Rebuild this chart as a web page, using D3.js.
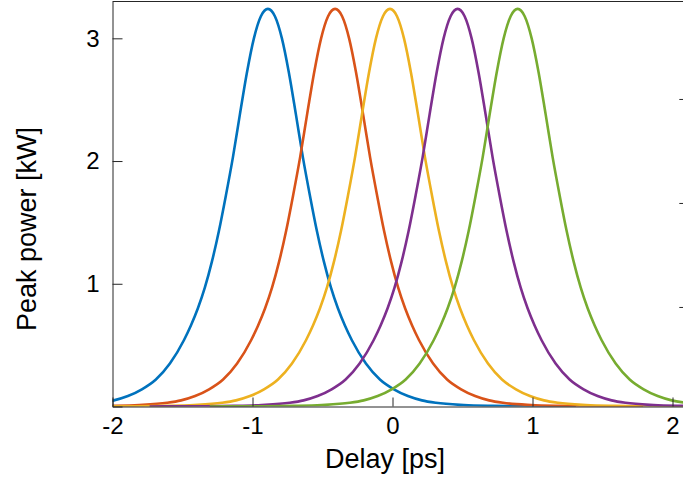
<!DOCTYPE html>
<html>
<head>
<meta charset="utf-8">
<script src="https://cdn.jsdelivr.net/npm/d3@7"></script>
<style>
  body { margin: 0; background: #fff; }
  svg { display: block; font-family: "Liberation Sans", Arial, sans-serif; }
</style>
</head>
<body>
<svg width="683" height="482"></svg>
<script>
// pulse shape: delay from peak [ps] vs peak power [kW]
var pulseOffset = [0, 0.05, 0.1, 0.15, 0.2, 0.25, 0.3, 0.35, 0.4, 0.45, 0.5, 0.55, 0.6, 0.7, 0.8, 0.9, 1.0, 1.1, 1.2, 1.4, 1.6, 1.8, 2.0, 2.2];
var pulsePower  = [3.24, 3.18, 3.00, 2.72, 2.38, 2.03, 1.72, 1.43, 1.18, 0.97, 0.80, 0.66, 0.54, 0.35, 0.22, 0.14, 0.085, 0.05, 0.03, 0.012, 0.005, 0.002, 0.001, 0.0005];

// peak delay of each pulse [ps]
var peakDelay = [-0.89, -0.41, -0.018, 0.465, 0.894];
var colors = ["#0072BD", "#D95319", "#EDB120", "#7E2F8E", "#77AC30"];

var xTicks = [-2, -1, 0, 1, 2];
var yTicks = [0, 1, 2, 3];
var rightTicks = [1, 2, 3];

var svg = d3.select("svg");

var plotL = 112.5, plotR = 689.3, plotT = 1.5, plotB = 406.5;

var x = d3.scaleLinear().domain([-2, 2.12]).range([plotL, plotR]);
var y = d3.scaleLinear().domain([0, 3.3]).range([plotB, plotT]);
var yRight = d3.scaleLinear().domain([0.043, 3.937]).range([plotB, plotT]);

svg.append("defs").append("clipPath").attr("id", "plot")
  .append("rect")
  .attr("x", plotL).attr("y", plotT)
  .attr("width", plotR - plotL).attr("height", plotB - plotT);

// full symmetric profile
var profile = [];
for (var i = pulseOffset.length - 1; i > 0; i--) profile.push([-pulseOffset[i], pulsePower[i]]);
for (var j = 0; j < pulseOffset.length; j++) profile.push([pulseOffset[j], pulsePower[j]]);

var line = d3.line()
  .x(function(d) { return x(d[0]); })
  .y(function(d) { return y(d[1]); })
  .curve(d3.curveMonotoneX);

svg.append("g")
  .attr("clip-path", "url(#plot)")
  .selectAll("path")
  .data(peakDelay)
  .enter().append("path")
  .attr("fill", "none")
  .attr("stroke", function(d, i) { return colors[i]; })
  .attr("stroke-width", 2.6)
  .attr("d", function(c) {
    return line(profile.map(function(p) { return [c + p[0], p[1]]; }));
  });

// axes
svg.append("g")
  .attr("transform", "translate(0," + plotB + ")")
  .call(d3.axisBottom(x).tickValues(xTicks).tickSizeInner(-9).tickSizeOuter(0).tickPadding(10)
    .tickFormat(function(d) { return String(d); }));

svg.append("g")
  .attr("transform", "translate(" + plotL + ",0)")
  .call(d3.axisLeft(y).tickValues(yTicks).tickSizeInner(-10).tickSizeOuter(0).tickPadding(13)
    .tickFormat(function(d) { return d === 0 ? "" : String(d); }));

svg.append("g")
  .attr("transform", "translate(" + plotR + ",0)")
  .call(d3.axisRight(yRight).tickValues(rightTicks).tickSizeInner(-10).tickSizeOuter(0).tickFormat(""));

svg.selectAll(".domain").attr("stroke", "#262626");
svg.selectAll(".tick line").attr("stroke", "#262626");
svg.selectAll(".tick text").attr("fill", "#000").style("font-size", "24px")
  .style("font-family", "'Liberation Sans', Arial, sans-serif");

// box top
svg.append("line")
  .attr("x1", plotL).attr("x2", plotR)
  .attr("y1", plotT).attr("y2", plotT)
  .attr("stroke", "#262626").attr("stroke-width", 1.2);

svg.append("text")
  .attr("x", 385).attr("y", 468)
  .attr("text-anchor", "middle")
  .style("font-size", "27px")
  .text("Delay [ps]");

svg.append("text")
  .attr("transform", "translate(36,229) rotate(-90)")
  .attr("text-anchor", "middle")
  .style("font-size", "27px")
  .text("Peak power [kW]");
</script>
</body>
</html>
